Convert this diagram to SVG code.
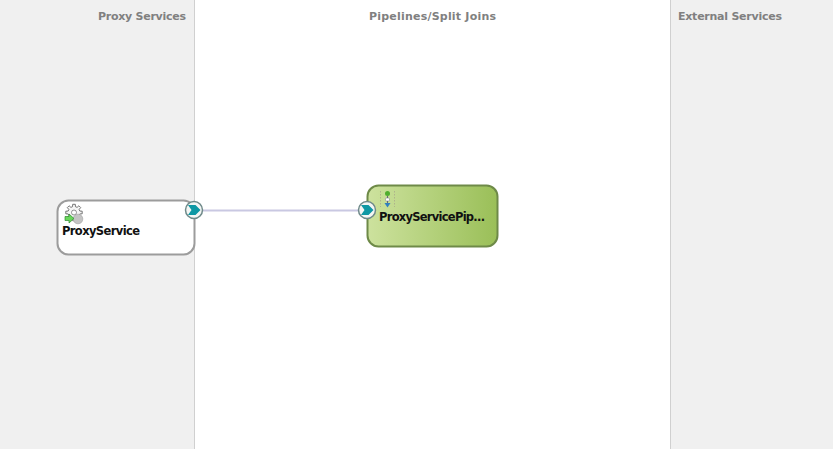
<svg xmlns="http://www.w3.org/2000/svg" width="833" height="449" viewBox="0 0 833 449">
<style>
.h{font:bold 11px "DejaVu Sans",sans-serif;fill:#808080}
.n{font:bold 11.500px "DejaVu Sans",sans-serif;fill:#111}
.port{fill:#f4f6f4;stroke:#6f8a8a;stroke-width:1.500}
.chev{fill:#0e98a4}
</style>
<defs>
<linearGradient id="g" x1="0" y1="0" x2="1" y2="0"><stop offset="0" stop-color="#cde29e"/><stop offset="1" stop-color="#9abf58"/></linearGradient>
</defs>
<rect width="833" height="449" fill="#fff"/>
<g id="lanes">
<rect x="0" y="0" width="194.500" height="449" fill="#f0f0f0"/>
<rect x="670.500" y="0" width="162.500" height="449" fill="#f0f0f0"/>
<path d="M194.500 0V449M670.500 0V449" stroke="#d0d0d0" fill="none"/>
<text class="h" x="98" y="20" textLength="88">Proxy Services</text>
<text class="h" x="369" y="20" textLength="127">Pipelines/Split Joins</text>
<text class="h" x="678" y="20" textLength="104">External Services</text>
</g>
<g id="connectors">
<path d="M203 210.500H359" stroke="#c9c8e2" stroke-width="2" fill="none"/>
</g>
<g id="ProxyService">
<rect x="57.500" y="200.500" width="137" height="54" rx="11" fill="#fff" stroke="#9c9c9c" stroke-width="2"/>
<g transform="translate(74 212.500)">
<path d="M5.82-1.45L8.2-1.3 8.2 1.3 5.82 1.45 5.14 3.09 6.71 4.88 4.88 6.71 3.09 5.14 1.45 5.82 1.3 8.2-1.3 8.2-1.45 5.82-3.09 5.14-4.88 6.71-6.71 4.88-5.14 3.09-5.82 1.45-8.2 1.3-8.2-1.3-5.82-1.45-5.14-3.09-6.71-4.88-4.88-6.71-3.09-5.14-1.45-5.82-1.3-8.2 1.3-8.2 1.45-5.82 3.09-5.14 4.88-6.71 6.71-4.88 5.14-3.09Z" fill="#f6f6f6" stroke="#666" stroke-width="0.900"/>
<circle r="2.500" fill="#fff" stroke="#777" stroke-width="0.800"/>
</g>
<circle cx="78" cy="219" r="4.800" fill="#c4c4c4" stroke="#a8a8a8" stroke-width="0.700"/>
<path d="M65 216.500h4v-2.500l5 4.500-5 4.500v-2.500h-4z" fill="#68d65a" stroke="#2e8a2e" stroke-width="0.700"/>
<text class="n" x="62" y="235" textLength="78">ProxyService</text>
<circle class="port" cx="194" cy="210" r="8.500"/>
<path class="chev" d="M188 205h7.500l5 5-5 5h-7.500l3.500-5z"/>
</g>
<g id="ProxyServicePipeline">
<rect x="367.500" y="185.500" width="130" height="61" rx="11" fill="url(#g)" stroke="#6e8a48" stroke-width="2"/>
<path d="M380.500 191v16M394.500 191v16" stroke="#a9a98a" stroke-width="0.800" stroke-dasharray="1.500 1.500"/>
<path d="M387.500 196v8" stroke="#667" stroke-width="1"/>
<circle cx="387.500" cy="193.500" r="2.500" fill="#4fae2e"/>
<rect x="385.500" y="198" width="4" height="3" rx="1" fill="#fff" stroke="#778" stroke-width="0.500"/>
<path d="M384.500 203h6l-3 4.500z" fill="#2f7fc0"/>
<text class="n" x="379" y="221" textLength="106">ProxyServicePip...</text>
<circle class="port" cx="367" cy="210" r="8.500"/>
<path class="chev" d="M361 205h7.500l5 5-5 5h-7.500l3.500-5z"/>
</g>
</svg>
